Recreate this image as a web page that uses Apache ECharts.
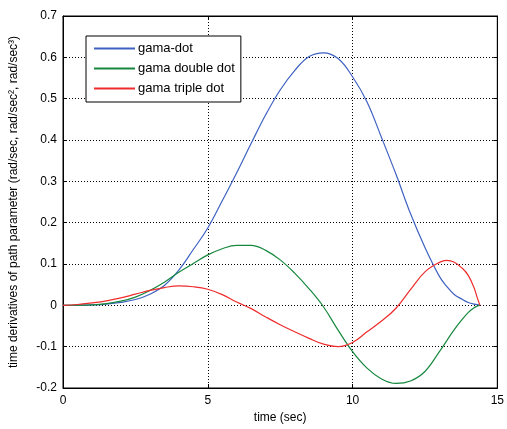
<!DOCTYPE html>
<html><head><meta charset="utf-8">
<script src="https://cdn.jsdelivr.net/npm/echarts@6/dist/echarts.min.js"></script>
<style>html,body{margin:0;padding:0;background:#fff}#c{width:507px;height:429px}</style>
</head><body><div id="c"></div>
<script>
var times      = [0, 0.5, 1, 1.5, 2, 2.5, 3, 3.5, 4, 4.5, 5, 5.5, 6, 6.5, 7, 7.5, 8, 8.5, 9, 9.5, 10, 10.5, 11, 11.5, 12, 12.5, 13, 13.25, 13.5, 13.8, 14, 14.2, 14.3, 14.4];
var gamaDot    = [0, 0.0003, 0.001, 0.003, 0.007, 0.014, 0.027, 0.048, 0.085, 0.135, 0.187, 0.253, 0.321, 0.392, 0.461, 0.521, 0.568, 0.602, 0.611, 0.597, 0.553, 0.492, 0.406, 0.317, 0.222, 0.14, 0.07, 0.046, 0.027, 0.014, 0.007, 0.003, 0.002, 0];
var gamaDouble = [0, 0.0003, 0.001, 0.004, 0.01, 0.02, 0.036, 0.056, 0.08, 0.101, 0.122, 0.137, 0.145, 0.145, 0.133, 0.11, 0.078, 0.04, -0.004, -0.06, -0.112, -0.152, -0.178, -0.189, -0.183, -0.16, -0.112, -0.086, -0.06, -0.033, -0.017, -0.006, -0.002, 0];
var gamaTriple = [0, 0.002, 0.006, 0.011, 0.018, 0.027, 0.036, 0.043, 0.047, 0.045, 0.039, 0.026, 0.008, -0.008, -0.028, -0.047, -0.064, -0.08, -0.094, -0.1, -0.09, -0.064, -0.038, -0.007, 0.038, 0.081, 0.104, 0.109, 0.105, 0.089, 0.072, 0.042, 0.02, 0];
var xTicks = {min:0, max:15, interval:5};
var yTicks = {min:-0.2, max:0.7, interval:0.1};
var names = ['gama-dot','gama double dot','gama triple dot'];
var colors = ['#3f62c2','#16883e','#ee2c2c'];

function pairs(v){ return times.map(function(t,i){return [t,v[i]];}); }
var font = 'Liberation Sans, Arial, sans-serif';
var chart = echarts.init(document.getElementById('c'));
var axLine = {show:true, onZero:false, lineStyle:{color:'#000', width:1}};
var split = {show:true, lineStyle:{color:'#000', type:[1,2], width:1}};
var tick = {show:true,inside:true,length:4,lineStyle:{color:'#000'}};
chart.setOption({
  animation:false,
  backgroundColor:'#fff',
  grid:{left:61,right:8,top:16,bottom:40,show:true,borderColor:'#000',borderWidth:1},
  legend:{
    data:names, orient:'vertical', left:86, top:36,
    backgroundColor:'#fff', borderColor:'#000', borderWidth:1,
    padding:[6,6,7,8], itemGap:7, itemWidth:41, itemHeight:2,
    icon:'rect',
    textStyle:{fontFamily:font, fontSize:13, color:'#000', padding:[0,0,0,-2]}
  },
  xAxis:[
    {type:'value', min:xTicks.min, max:xTicks.max, interval:xTicks.interval,
     name:'time (sec)', nameLocation:'middle', nameGap:24,
     nameTextStyle:{fontFamily:font,fontSize:12,color:'#000'},
     axisLine:axLine, axisTick:tick,
     axisLabel:{fontFamily:font,fontSize:12,color:'#000',margin:7},
     splitLine:split},
    {type:'value', position:'top', min:xTicks.min, max:xTicks.max, interval:xTicks.interval,
     axisLine:axLine, axisTick:tick, axisLabel:{show:false}, splitLine:{show:false}}
  ],
  yAxis:[
    {type:'value', min:yTicks.min, max:yTicks.max, interval:yTicks.interval,
     name:'time derivatives of path parameter (rad/sec, rad/sec\u00B2, rad/sec\u00B3)',
     nameLocation:'middle', nameGap:43,
     nameTextStyle:{fontFamily:font,fontSize:12,color:'#000'},
     axisLine:axLine, axisTick:tick,
     axisLabel:{fontFamily:font,fontSize:12,color:'#000',margin:6,
       formatter:function(v){return String(Math.round(v*10)/10);}},
     splitLine:split},
    {type:'value', position:'right', min:yTicks.min, max:yTicks.max, interval:yTicks.interval,
     axisLine:axLine, axisTick:tick, axisLabel:{show:false}, splitLine:{show:false}}
  ],
  series:[
    {name:names[0], type:'line', data:pairs(gamaDot), smooth:0.4, showSymbol:false, symbol:'none', color:colors[0], lineStyle:{width:1.2,color:colors[0]}},
    {name:names[1], type:'line', data:pairs(gamaDouble), smooth:0.4, showSymbol:false, symbol:'none', color:colors[1], lineStyle:{width:1.2,color:colors[1]}},
    {name:names[2], type:'line', data:pairs(gamaTriple), smooth:0.4, showSymbol:false, symbol:'none', color:colors[2], lineStyle:{width:1.2,color:colors[2]}}
  ]
});
</script></body></html>
